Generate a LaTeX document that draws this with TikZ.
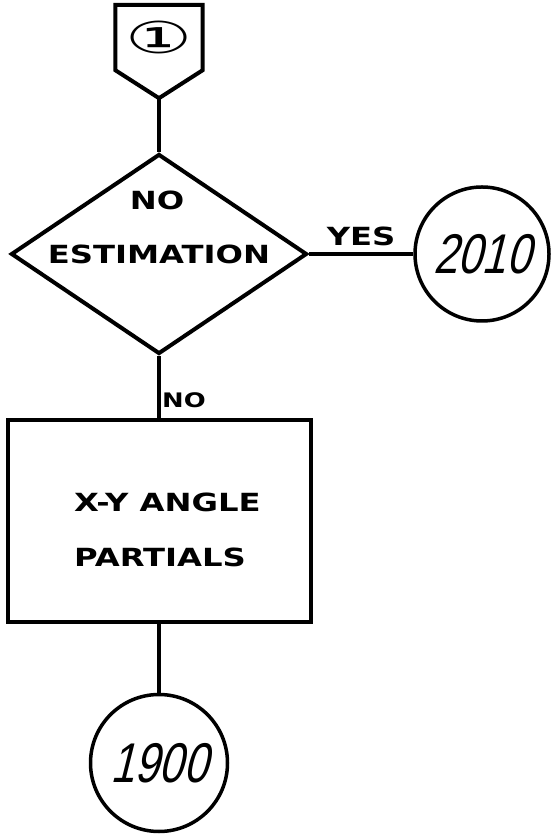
\documentclass[tikz,border=0pt]{standalone}
\usepackage{fontspec}
\usetikzlibrary{shapes.geometric, positioning, calc}
\newfontfamily\handfont[FakeStretch=1.29]{DejaVu Sans Bold}
\newfontfamily\numfont[FakeSlant=0.25,FakeStretch=0.78]{Liberation Sans}
\newfontfamily\symfont{DejaVu Sans}
\tikzset{
  flowline/.style={line width=4pt, line join=miter},
  handtext/.style={font=\handfont\fontsize{25}{55}\selectfont, inner sep=0pt},
  handsmall/.style={font=\handfont\fontsize{20}{24}\selectfont, inner sep=0pt},
  refcircle/.style={draw, circle, line width=3.5pt, minimum size=#1, inner sep=0pt,
                    font=\numfont\fontsize{56}{60}\selectfont},
}

\begin{document}
\begin{tikzpicture}[x=1pt, y=1pt]
  \useasboundingbox (0,0) rectangle (552,835);
  % off-page connector
  \node[inner sep=0pt, minimum width=87pt, minimum height=65pt] (conn) at (159,797.5)
       {\symfont\fontsize{44}{44}\selectfont\scalebox{1.7}[1]{①}};
  \coordinate (connTip) at ($(conn.south)+(0,-28)$);
  \draw[flowline] (conn.north west) -- (conn.north east) -- (conn.south east)
        -- (connTip) -- (conn.south west) -- cycle;
  % decision
  \node[draw, diamond, flowline, shape aspect=1.48, minimum width=296pt,
        minimum height=200pt, handtext] (est) at (159,581) {ESTIMATION};
  \node[handtext] (estNo) at (157,635) {NO};
  \node[refcircle=134pt] (r2010) at (482,581) {2010};
  \draw[flowline] (connTip) -- (est.north);
  \draw[flowline] (est) -- (r2010) node[midway, above=6pt, handtext] (yesLbl) {YES};
  % partials box
  \node[draw, flowline, minimum width=303pt, minimum height=202pt] (xy) at (159,314) {};
  \node[handtext, align=left, anchor=west] (xyText) at (74,305) {X-Y ANGLE\\PARTIALS};
  \node[handsmall] (noLbl) at (184,435) {NO};
  \draw[flowline] (est) -- (xy);
  % exit
  \node[refcircle=137pt] (r1900) at (159,72) {1900};
  \draw[flowline] (xy) -- (r1900);
\end{tikzpicture}
\end{document}
